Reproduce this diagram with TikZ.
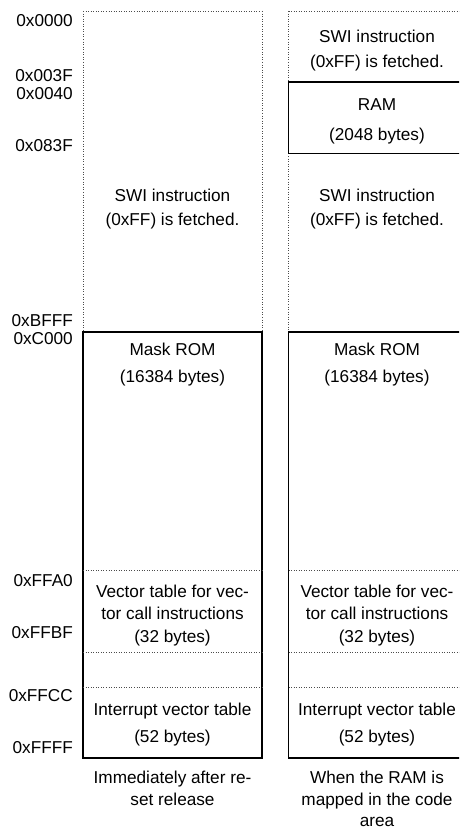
\documentclass[tikz,border=0pt]{standalone}
\usepackage{fontspec}
\setmainfont{Liberation Sans}
\begin{document}
\begin{tikzpicture}[x=1pt,y=-1pt,
  txt/.style={inner sep=0pt,font=\fontsize{17.2}{20}\selectfont,text height=12pt,text depth=3.5pt,anchor=center},
  addr/.style={txt,anchor=east},
  dotline/.style={draw=black!70,line width=0.55pt,dotted},
  solidline/.style={draw=black,line width=1.6pt}]
\useasboundingbox[clip] (0,0) rectangle (459,829);
% left column
\draw[dotline] (83,11) -- (262,11);
\draw[dotline] (83,11) -- (83,332);
\draw[dotline] (262,11) -- (262,332);
\draw[solidline] (83,332) rectangle (262,758);
% right column
\draw[dotline] (288.5,11) -- (470,11);
\draw[dotline] (288.5,11) -- (288.5,82);
\draw[dotline] (288.5,153.5) -- (288.5,332);
\draw[solidline] (288.5,82) rectangle (470,153.5);
\draw[solidline] (288.5,332) rectangle (470,758);
% dotted separators
\foreach \yy in {570,652,687}{
  \draw[dotline] (83,\yy) -- (262,\yy);
  \draw[dotline] (288.5,\yy) -- (470,\yy);
}
% address labels
\node[addr] (a0000) at (73,22) {0x0000};
\node[addr] (a003F) at (73,77) {0x003F};
\node[addr] (a0040) at (73,95) {0x0040};
\node[addr] (a083F) at (73,147) {0x083F};
\node[addr] (aBFFF) at (73,322) {0xBFFF};
\node[addr] (aC000) at (73,340) {0xC000};
\node[addr] (aFFA0) at (73,582) {0xFFA0};
\node[addr] (aFFBF) at (73,634) {0xFFBF};
\node[addr] (aFFCC) at (73,697) {0xFFCC};
\node[addr] (aFFFF) at (73,749) {0xFFFF};
% left column texts
\node[txt] (lswi1) at (172.5,197) {SWI instruction};
\node[txt] (lswi2) at (172.5,221) {(0xFF) is fetched.};
\node[txt] (lrom1) at (172.5,351) {Mask ROM};
\node[txt] (lrom2) at (172.5,378) {(16384 bytes)};
\node[txt] (lvec1) at (172.5,593) {Vector table for vec-};
\node[txt] (lvec2) at (172.5,615) {tor call instructions};
\node[txt] (lvec3) at (172.5,638) {(32 bytes)};
\node[txt] (lint1) at (172.5,711) {Interrupt vector table};
\node[txt] (lint2) at (172.5,738) {(52 bytes)};
\node[txt] (lcap1) at (172.5,779) {Immediately after re-};
\node[txt] (lcap2) at (172.5,801) {set release};
% right column texts
\node[txt] (rswiA1) at (377,38) {SWI instruction};
\node[txt] (rswiA2) at (377,63) {(0xFF) is fetched.};
\node[txt] (rram1) at (377,106) {RAM};
\node[txt] (rram2) at (377,136) {(2048 bytes)};
\node[txt] (rswi1) at (377,197) {SWI instruction};
\node[txt] (rswi2) at (377,221) {(0xFF) is fetched.};
\node[txt] (rrom1) at (377,351) {Mask ROM};
\node[txt] (rrom2) at (377,378) {(16384 bytes)};
\node[txt] (rvec1) at (377,593) {Vector table for vec-};
\node[txt] (rvec2) at (377,615) {tor call instructions};
\node[txt] (rvec3) at (377,638) {(32 bytes)};
\node[txt] (rint1) at (377,711) {Interrupt vector table};
\node[txt] (rint2) at (377,738) {(52 bytes)};
\node[txt] (rcap1) at (377,779) {When the RAM is};
\node[txt] (rcap2) at (377,801) {mapped in the code};
\node[txt] (rcap3) at (377,822) {area};
\end{tikzpicture}
\end{document}
